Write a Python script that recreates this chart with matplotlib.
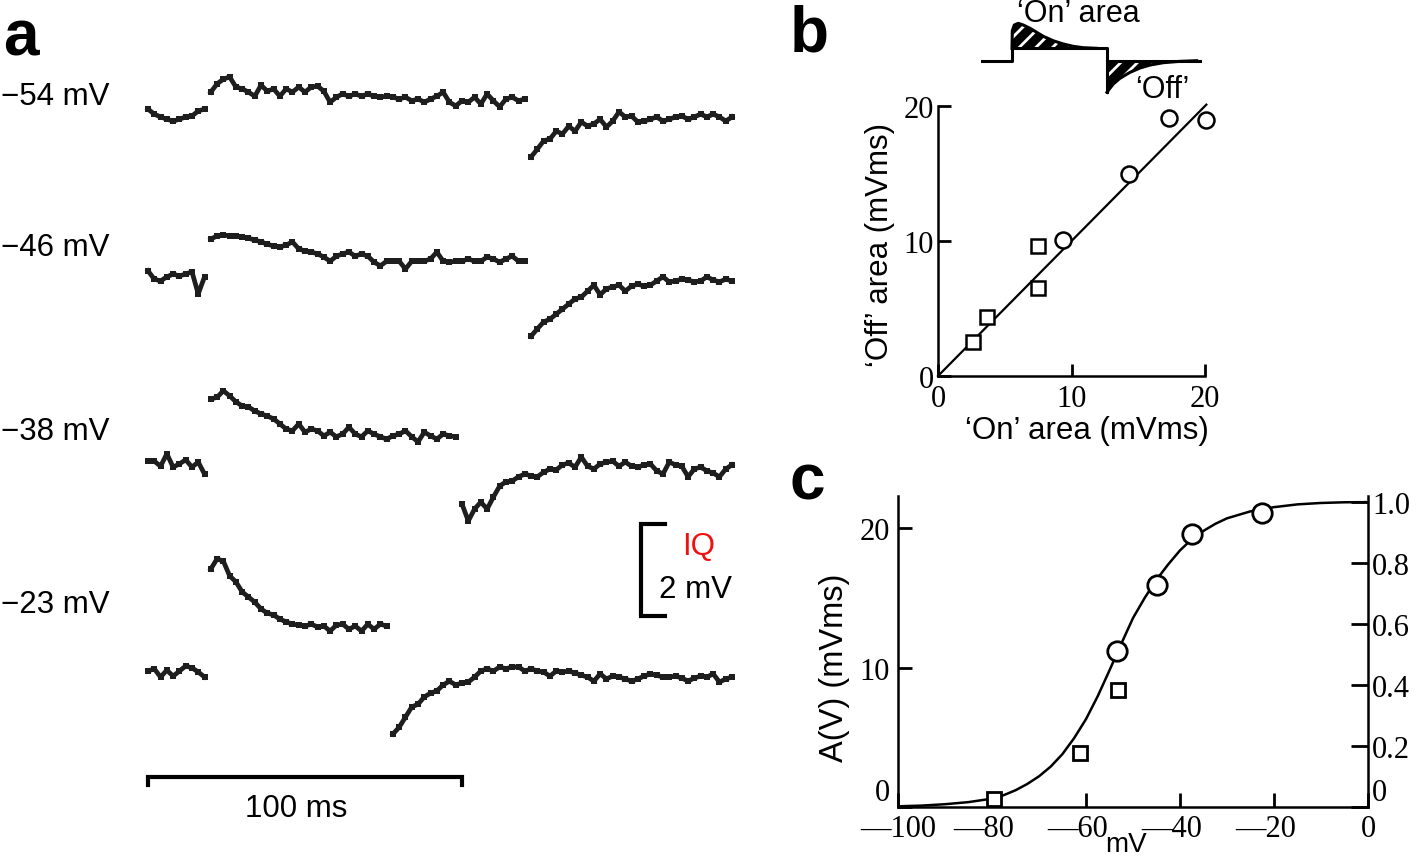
import numpy as np
import matplotlib.pyplot as plt
from matplotlib.transforms import ScaledTranslation

plt.rcParams['font.family'] = ['Liberation Sans', 'DejaVu Sans']
plt.rcParams['hatch.linewidth'] = 2.0

SERIF = ['Liberation Serif', 'DejaVu Serif']
W, H = 1418, 862

# ---------------- panel a: voltage traces (mV, relative to pre-step baseline) ----------------
trace_labels = ["\u221254 mV", "\u221246 mV", "\u221238 mV", "\u221223 mV"]
step_on_ms = 20
step_off_ms = [122, 122, 100, 78]
dt_ms = 2

pre_54 = [0.15, 0.04, -0.02, -0.07, -0.11, -0.07, -0.02, 0.00, 0.11, 0.15]
on_54 = [0.52, 0.70, 0.80, 0.85, 0.63, 0.59, 0.52, 0.43, 0.67, 0.54,
         0.59, 0.43, 0.59, 0.52, 0.63, 0.52, 0.63, 0.65, 0.54, 0.30,
         0.41, 0.48, 0.43, 0.48, 0.43, 0.48, 0.43, 0.41, 0.43, 0.41,
         0.37, 0.41, 0.33, 0.37, 0.30, 0.37, 0.43, 0.52, 0.30, 0.22,
         0.33, 0.30, 0.41, 0.26, 0.48, 0.33, 0.20, 0.37, 0.41, 0.33, 0.37]
off_54 = [-0.89, -0.72, -0.54, -0.50, -0.33, -0.39, -0.22, -0.33, -0.13, -0.22,
          -0.17, -0.07, -0.24, -0.11, 0.09, -0.02, 0.00, -0.13, -0.11, -0.07,
          -0.02, -0.11, -0.07, -0.02, 0.00, -0.07, -0.02, 0.04, -0.02, 0.04,
          -0.02, -0.11, -0.02]

pre_46 = [0.09, -0.09, -0.13, -0.04, 0.02, -0.02, 0.02, 0.07, -0.41, -0.04]
on_46 = [0.78, 0.85, 0.87, 0.85, 0.85, 0.83, 0.80, 0.76, 0.72, 0.67,
         0.63, 0.61, 0.65, 0.72, 0.57, 0.52, 0.50, 0.46, 0.39, 0.30,
         0.41, 0.46, 0.50, 0.41, 0.46, 0.41, 0.28, 0.20, 0.30, 0.30,
         0.30, 0.13, 0.30, 0.30, 0.30, 0.35, 0.50, 0.30, 0.28, 0.30,
         0.30, 0.35, 0.30, 0.30, 0.39, 0.35, 0.28, 0.35, 0.41, 0.30, 0.30]
off_46 = [-1.33, -1.17, -1.02, -0.96, -0.85, -0.74, -0.63, -0.52, -0.48, -0.35,
          -0.22, -0.43, -0.30, -0.26, -0.22, -0.35, -0.24, -0.20, -0.24, -0.22,
          -0.13, -0.04, -0.15, -0.13, -0.09, -0.11, -0.15, -0.13, -0.04, -0.11,
          -0.15, -0.09, -0.13]

pre_38 = [0.04, 0.04, -0.07, 0.20, -0.09, -0.02, 0.07, -0.09, 0.02, -0.24]
on_38 = [1.39, 1.43, 1.57, 1.46, 1.33, 1.24, 1.22, 1.13, 1.07, 1.02,
         0.96, 0.85, 0.74, 0.70, 0.85, 0.67, 0.74, 0.70, 0.59, 0.67,
         0.57, 0.63, 0.78, 0.63, 0.57, 0.70, 0.63, 0.57, 0.52, 0.59,
         0.63, 0.70, 0.57, 0.46, 0.67, 0.59, 0.52, 0.63, 0.59, 0.57]
off_38 = [-0.89, -1.26, -1.00, -0.85, -1.00, -0.74, -0.50, -0.41, -0.39, -0.30,
          -0.24, -0.28, -0.30, -0.20, -0.13, -0.15, -0.04, 0.00, -0.09, 0.13,
          -0.07, -0.13, -0.02, 0.02, 0.04, -0.07, 0.02, -0.07, -0.09, -0.04,
          -0.02, -0.17, -0.24, 0.02, -0.04, -0.07, -0.30, -0.13, -0.09, -0.17,
          -0.22, -0.30, -0.13, -0.04]

pre_23 = [0.02, 0.07, -0.11, 0.04, -0.09, 0.02, 0.13, 0.09, 0.00, -0.11]
on_23 = [2.24, 2.46, 2.41, 2.09, 1.96, 1.74, 1.63, 1.52, 1.37, 1.28,
         1.24, 1.15, 1.09, 1.04, 1.02, 1.00, 1.04, 0.98, 1.00, 0.89,
         1.02, 1.04, 0.93, 1.00, 0.89, 1.04, 0.93, 1.04, 1.00]
off_23 = [-1.35, -1.20, -0.98, -0.76, -0.70, -0.54, -0.46, -0.41, -0.28, -0.20,
          -0.28, -0.24, -0.22, -0.11, 0.02, 0.07, 0.02, 0.11, 0.07, 0.11,
          0.11, 0.02, 0.07, 0.02, 0.00, -0.09, 0.02, 0.00, 0.02, -0.02,
          -0.07, -0.11, -0.20, -0.04, -0.15, -0.09, -0.11, -0.15, -0.20, -0.15,
          -0.09, -0.04, -0.07, -0.11, -0.11, -0.09, -0.13, -0.20, -0.13, -0.09,
          -0.11, -0.04, -0.22, -0.15, -0.11]

# ---------------- panel b: schematic + on/off areas ----------------
sch_cmd_t = [0, 30, 30, 125, 125, 218]
sch_cmd_v = [0, 0, 1, 1, 0, 0]
sch_on_t = [30, 30.3, 32.3, 36.3, 41.3, 48, 54.7, 61.3, 71.3, 81.3, 91.3, 101.3, 114.7]
sch_on_v = [1.0, 2.42, 2.88, 3.02, 2.88, 2.62, 2.29, 1.97, 1.61, 1.35, 1.16, 1.05, 1.0]
sch_off_t = [125, 127.3, 131.3, 138, 148, 158, 168, 181.3, 198, 214.7]
sch_off_v = [-2.55, -2.29, -1.88, -1.42, -0.94, -0.59, -0.35, -0.16, -0.05, 0.0]

on_area_sq = [2.6, 3.7, 7.5, 7.5]
off_area_sq = [2.5, 4.4, 6.5, 9.6]
on_area_circ = [9.4, 14.3, 17.3, 20.1]
off_area_circ = [10.1, 15.0, 19.1, 19.0]
fit_b_x = [0, 20.1]
fit_b_y = [0, 20.1]

# ---------------- panel c: A(V) ----------------
sq_v = [-79.6, -61.3, -53.2]
sq_a = [0.6, 3.9, 8.4]
circ_v = [-53.5, -45.0, -37.5, -22.5]
circ_a = [11.2, 15.9, 19.6, 21.1]
curve_v = [-100, -95, -90, -85, -80, -77.5, -75, -72.5, -70, -67.5, -65, -62.5, -60,
           -57.5, -55, -52.5, -50, -47.5, -45, -42.5, -40, -37.5, -35, -32.5, -30,
           -25, -20, -15, -10, -5, 0]
curve_a = [0.05, 0.1, 0.2, 0.35, 0.6, 0.85, 1.2, 1.65, 2.2, 2.9, 3.8, 4.95, 6.3,
           7.95, 9.8, 11.7, 13.55, 15.0, 16.3, 17.4, 18.4, 19.2, 19.8, 20.3, 20.7,
           21.2, 21.5, 21.7, 21.8, 21.85, 21.86]
a_max = 21.86


def fx(px):
    return px / W


def fy(py):
    return 1 - py / H


fig = plt.figure(figsize=(W / 100, H / 100), dpi=100)

# ===== panel a =====
px_per_ms = 3.14
px_per_mv = 46
ax_a = fig.add_axes([0, 0, 750 / W, 1])
ax_a.set_xlim(-148 / px_per_ms, (750 - 148) / px_per_ms)
ax_a.set_ylim(0, H / px_per_mv)
ax_a.axis('off')

trace_base_py = [117, 276, 464, 673]
label_py = [97, 248, 432, 605]
traces = [(pre_54, on_54, off_54), (pre_46, on_46, off_46),
          (pre_38, on_38, off_38), (pre_23, on_23, off_23)]

for (pre, on, off), t_off, base, lab, ly in zip(traces, step_off_ms, trace_base_py,
                                                trace_labels, label_py):
    y0 = (H - base) / px_per_mv
    for t0, seg in ((0, pre), (step_on_ms, on), (t_off, off)):
        t = t0 + dt_ms * np.arange(len(seg))
        ax_a.plot(t, y0 + np.array(seg), color='#1e1e1e', lw=3.4,
                  marker='s', ms=4.8, mew=0)
    fig.text(0.001, fy(ly), lab, fontsize=22.5, va='center', ha='left')

# time scale bar
yb = (H - 778) / px_per_mv
tk = 8 / px_per_mv
ax_a.plot([0, 0, 100, 100], [yb - tk, yb, yb, yb - tk], color='black', lw=3,
          solid_joinstyle='miter')
fig.text(fx(296), fy(809), "100 ms", fontsize=22.5, ha='center', va='center')

# voltage scale bar
xs = (641 - 148) / px_per_ms
cap = 24 / px_per_ms
ys0 = (H - 617) / px_per_mv
ax_a.plot([xs + cap, xs, xs, xs + cap], [ys0, ys0, ys0 + 2, ys0 + 2], color='black',
          lw=3, solid_joinstyle='miter')
fig.text(fx(682), fy(547), "IQ", fontsize=22.5, color='#ee1111', ha='left', va='center')
fig.text(fx(659), fy(590), "2 mV", fontsize=22.5, ha='left', va='center')

# ===== panel b schematic =====
ax_s = fig.add_axes([fx(975), fy(100), 235 / W, 85 / H])
ax_s.set_xlim(-7, 228)
ax_s.set_ylim(-3.09, 3.77)
ax_s.axis('off')
ax_s.fill_between(sch_on_t, 1, sch_on_v, facecolor='black', edgecolor='white',
                  hatch='//', lw=0)
ax_s.fill_between(sch_off_t, sch_off_v, 0, facecolor='black', edgecolor='white',
                  hatch='//', lw=0)
ax_s.plot(sch_on_t, sch_on_v, color='black', lw=2.2)
ax_s.plot(sch_off_t, sch_off_v, color='black', lw=2.2)
ax_s.plot(sch_cmd_t, sch_cmd_v, color='black', lw=2.2)
ax_s.plot([125, 125], [0, sch_off_v[0]], color='black', lw=2.2)
fig.text(fx(1078), fy(14), "\u2018On\u2019 area", fontsize=22, ha='center', va='center')
fig.text(fx(1162), fy(90), "\u2018Off\u2019", fontsize=22, ha='center', va='center')

# ===== panel b scatter =====
ax_b = fig.add_axes([fx(938), fy(377), 267 / W, 270 / H])
ax_b.plot(fit_b_x, fit_b_y, color='black', lw=1.6, clip_on=False)
ax_b.plot(on_area_sq, off_area_sq, 's', ms=9.5, mfc='white', mec='black', mew=1.8,
          clip_on=False)
ax_b.plot(on_area_circ, off_area_circ, 'o', ms=11.5, mfc='white', mec='black', mew=1.8,
          clip_on=False)
ax_b.set_xlim(0, 20)
ax_b.set_ylim(0, 20)
for s in ('top', 'right'):
    ax_b.spines[s].set_visible(False)
for s in ('left', 'bottom'):
    ax_b.spines[s].set_linewidth(1.8)
ax_b.set_xticks([0, 10, 20], ['0', '10', '20'], fontfamily=SERIF, fontsize=22)
ax_b.set_yticks([0, 10, 20], ['0', '10', '20'], fontfamily=SERIF, fontsize=22)
ax_b.tick_params(axis='x', direction='in', length=9, width=2, pad=6)
ax_b.tick_params(axis='y', direction='in', length=9, width=2, pad=3)
fig.text(fx(1087), fy(431), "\u2018On\u2019 area (mVms)", fontsize=22.5,
         ha='center', va='center')
fig.text(fx(880), fy(245), "\u2018Off\u2019 area (mVms)", fontsize=22.5,
         ha='center', va='center', rotation=90)

# ===== panel c =====
ax_c = fig.add_axes([fx(898), fy(808), 470 / W, (808 - 497) / H])
ax_c.plot(curve_v, curve_a, color='black', lw=1.8)
ax_c.plot(sq_v, sq_a, 's', ms=10.5, mfc='white', mec='black', mew=2, clip_on=False)
ax_c.plot(circ_v, circ_a, 'o', ms=14, mfc='white', mec='black', mew=2, clip_on=False)
ax_c.set_xlim(-100, 0)
ax_c.set_ylim(0, 22.3)
ax_c.spines['top'].set_visible(False)
ax_c.spines['right'].set_visible(False)
for s in ('left', 'bottom'):
    ax_c.spines[s].set_linewidth(1.8)
ax_c.set_xticks([-100, -80, -60, -40, -20, 0],
                ['\u2014100', '\u201480', '\u201460', '\u201440', '\u201420', '0'],
                fontfamily=SERIF, fontsize=22)
ax_c.set_yticks([0, 10, 20], ['0', '10', '20'], fontfamily=SERIF, fontsize=22)
ax_c.tick_params(axis='x', direction='in', length=10, width=2, pad=5)
ax_c.tick_params(axis='y', direction='in', length=10, width=2, pad=6)
ax_c.get_yticklabels()[0].set_verticalalignment('bottom')
# dashes make the labels sit a little left of their ticks, as in the original
shift = ScaledTranslation(-8 / 100, 0, fig.dpi_scale_trans)
for lab in ax_c.get_xticklabels()[1:-1]:
    lab.set_transform(lab.get_transform() + shift)

ax_r = ax_c.twinx()
ax_r.set_ylim(0, 22.3 / a_max)
for s in ('top', 'left', 'bottom'):
    ax_r.spines[s].set_visible(False)
ax_r.spines['right'].set_linewidth(1.8)
ax_r.set_yticks([0, 0.2, 0.4, 0.6, 0.8, 1.0], ['0', '0.2', '0.4', '0.6', '0.8', '1.0'],
                fontfamily=SERIF, fontsize=22)
ax_r.tick_params(axis='y', direction='in', length=12, width=2, pad=3)
ax_r.get_yticklabels()[0].set_verticalalignment('bottom')

fig.text(fx(1126), fy(832), "mV", fontsize=20, ha='center', va='top')
fig.text(fx(835), fy(668), "A(V) (mVms)", fontsize=23.5, ha='center', va='center',
         rotation=90)

# panel letters
fig.text(fx(3), fy(55), "a", fontsize=46, fontweight='bold', va='baseline')
fig.text(fx(790), fy(52), "b", fontsize=46, fontweight='bold', va='baseline')
fig.text(fx(790), fy(500), "c", fontsize=46, fontweight='bold', va='baseline')

fig.savefig("out.png", dpi=100)
